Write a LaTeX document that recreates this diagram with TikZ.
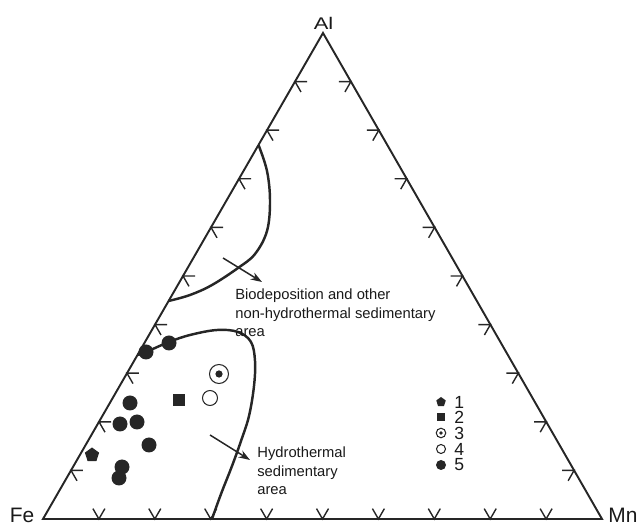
\documentclass[tikz,border=0pt]{standalone}
\usepackage{fontspec}
\setmainfont{Liberation Sans}
\usetikzlibrary{arrows.meta,calc,shapes.geometric}
\tikzset{
	axis/.style = {line width=1.1pt, draw=black!85, line join=miter},
	tickmark/.style = {line width=0.8pt, draw=black!85},
	border/.style = {line width=1.4pt, draw=black!85},
	pointer/.style = {-{Stealth[length=6.5pt,width=4.5pt]}, line width=0.85pt, draw=black!85},
	vlabel/.style = {inner sep=0pt, text=black!90},
	area/.style = {align=left, inner sep=0pt, anchor=west, text=black!90,
		font=\fontsize{8.4}{10.5}\selectfont},
	legtext/.style = {inner sep=0pt, anchor=west, text=black!90,
		font=\fontsize{10}{10}\selectfont},
	mkdot/.style = {circle, fill=black!85, inner sep=0pt, minimum size=#1},% sample 5
	mkpent/.style = {regular polygon, regular polygon sides=5, fill=black!85,
		inner sep=0pt, minimum size=#1},% sample 1
	mksq/.style = {rectangle, fill=black!85, inner sep=0pt, minimum size=#1},% sample 2
	mkopen/.style = {circle, draw=black!85, line width=0.6pt, fill=white,
		inner sep=0pt, minimum size=#1},% sample 4
	mkring/.style = {mkopen=#1, path picture={\fill[black!85]
		(path picture bounding box.center) circle[radius=0.19*#1];}}% sample 3
}
\begin{document}
\begin{tikzpicture}[x=0.02cm,y=0.02cm]
\useasboundingbox (0,0) rectangle (641,526);
% corners of the diagram
\coordinate (Fe) at (43,7);
\coordinate (Mn) at (602,7);
\coordinate (Al) at (323,493);
% ticks on the three sides
\foreach \k in {1,...,9} {
	\coordinate (b\k) at ($(Fe)!\k/10!(Mn)$);
	\coordinate (l\k) at ($(Fe)!\k/10!(Al)$);
	\coordinate (r\k) at ($(Mn)!\k/10!(Al)$);
	\draw[tickmark] ($(b\k)+(60:12)$) -- (b\k) -- ($(b\k)+(120:12)$);
	\draw[tickmark] ($(l\k)+(0:12)$) -- (l\k) -- ($(l\k)+(-60:12)$);
	\draw[tickmark] ($(r\k)+(180:12)$) -- (r\k) -- ($(r\k)+(240:12)$);
}
\draw[axis] (Fe) -- (Mn) -- (Al) -- cycle;
\draw[axis, line width=1.7pt] (Fe) -- (Mn);
\node[vlabel, font=\fontsize{11.9}{12}\selectfont] (lfe) at (22,10.5) {Fe};
\node[vlabel, font=\fontsize{11.9}{12}\selectfont] (lmn) at (623,10.5) {Mn};
\node[vlabel, font=\fontsize{9.6}{10}\selectfont] (lal) at (323.5,502.5) {\scalebox{1.3}[1]{Al}};
% fields
\draw[border] plot[smooth, tension=0.6] coordinates {(258.5,381) (267,355)
	(270,325) (267,295) (255,272) (238,258) (212,241) (190,231) (168.6,225)};
\draw[border] plot[smooth, tension=0.6] coordinates {(137.5,171) (146,174)
	(169,184) (190,191) (217,196) (238,194) (251,184) (255,165) (254,140)
	(249,110) (241,85) (232,60) (221,32) (212,7)};
\coordinate (bios) at (223,268);
\coordinate (bioe) at (262,244);
\coordinate (hyds) at (210,91);
\coordinate (hyde) at (250,66);
\draw[pointer] (bios) -- (bioe);
\draw[pointer] (hyds) -- (hyde);
\node[area] (bio) at (235,213) {Biodeposition and other\\non-hydrothermal sedimentary\\area};
\node[area] (hyd) at (257,55) {Hydrothermal\\sedimentary\\area};
% samples
\foreach \n/\px/\py in {1/146/174, 2/169/183, 3/130/123, 4/120/102,
	5/137/104, 6/149/81, 7/122/59, 8/119/48}
	\node[mkdot=0.3cm] (d\n) at (\px,\py) {};
\node[mkpent=0.3cm] (pt1) at (92,71) {};
\node[mksq=0.25cm] (sq1) at (179,126) {};
\node[mkring=0.38cm] (rg1) at (219,152) {};
\node[mkopen=0.3cm] (op1) at (210,128) {};
% legend
\foreach \n/\st/\sz/\py in {1/mkpent/0.2cm/124, 2/mksq/0.15cm/109,
	3/mkring/0.19cm/93, 4/mkopen/0.18cm/77, 5/mkdot/0.2cm/61} {
	\node[\st=\sz] (k\n) at (441,\py) {};
	\node[legtext] (t\n) at (454,\py) {\n};
}
\end{tikzpicture}
\end{document}
